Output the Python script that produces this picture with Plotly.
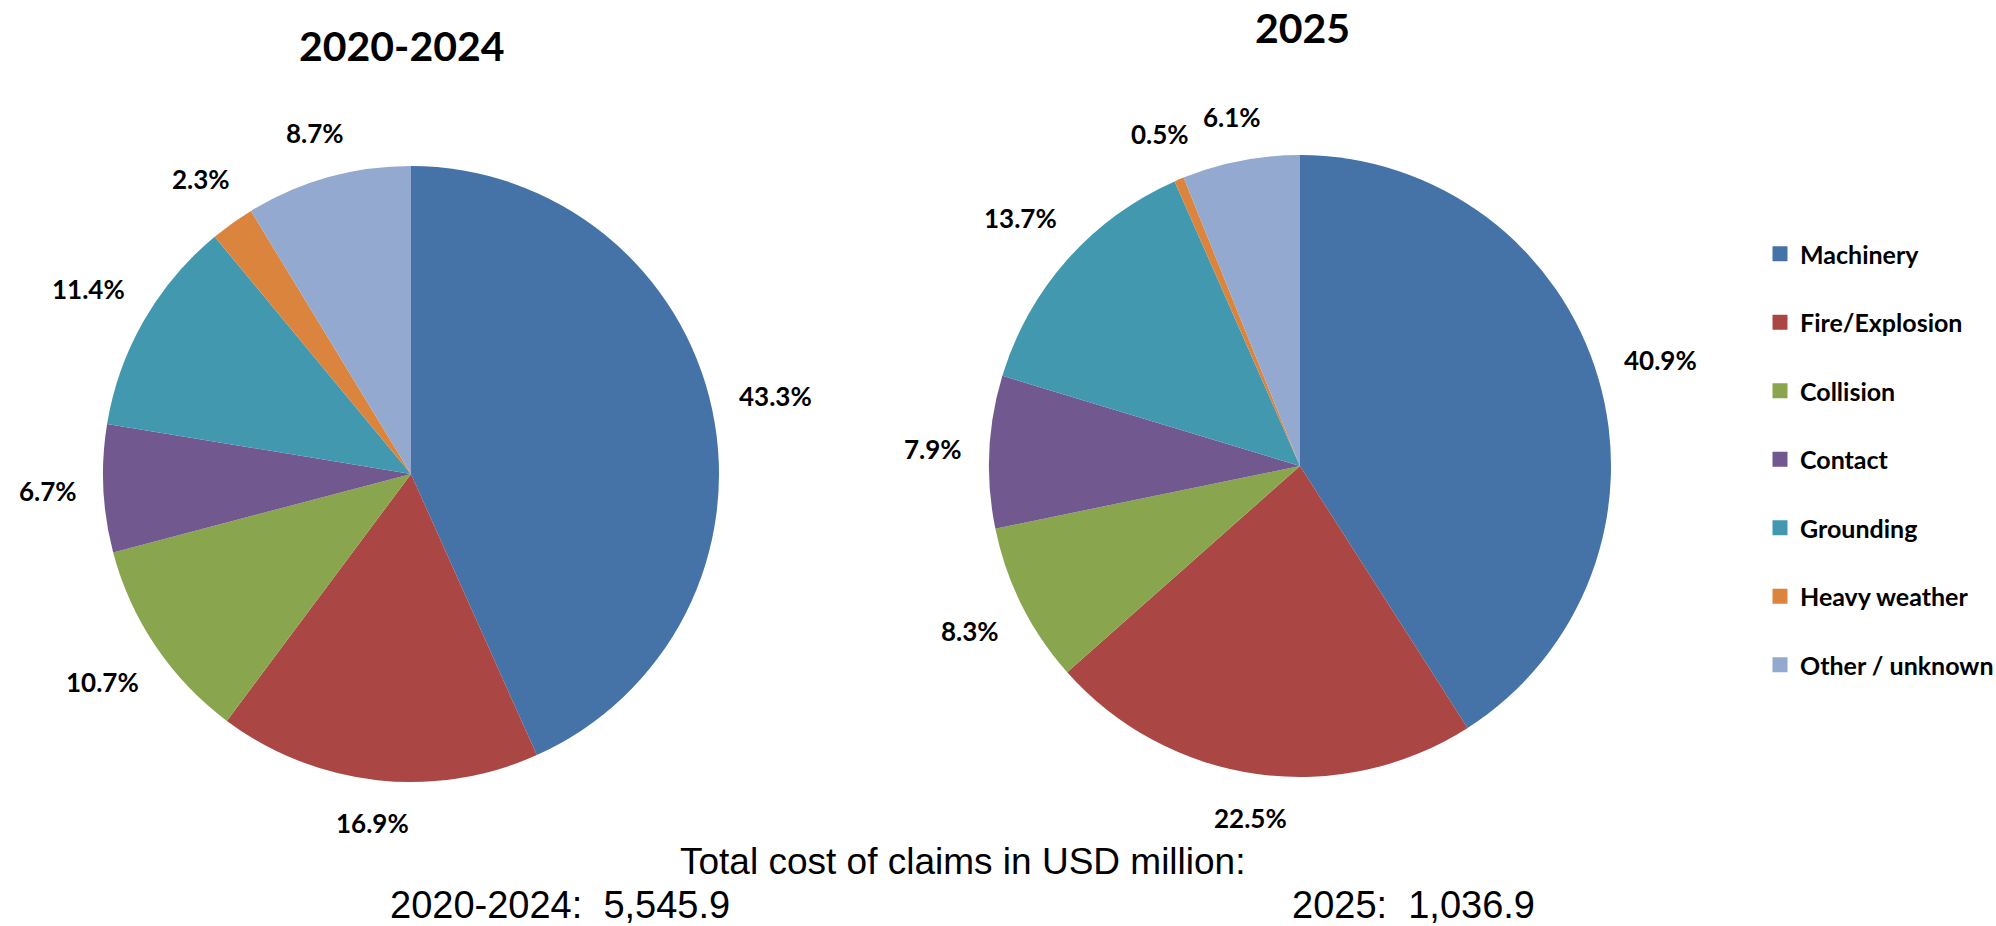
import math
import plotly.graph_objects as go

# ---------------- data ----------------
categories = ["Machinery", "Fire/Explosion", "Collision", "Contact",
              "Grounding", "Heavy weather", "Other / unknown"]
share_2020_2024 = [43.3, 16.9, 10.7, 6.7, 11.4, 2.3, 8.7]
share_2025 = [40.9, 22.5, 8.3, 7.9, 13.7, 0.5, 6.1]
period_titles = ["2020-2024", "2025"]
total_cost_2020_2024 = "5,545.9"
total_cost_2025 = "1,036.9"
footer_title = "Total cost of claims in USD million:"

colors = ["#4572A7", "#AA4643", "#89A54E", "#71588F",
          "#4198AF", "#DB843D", "#93A9CF"]

# ---------------- layout constants (pixels) ----------------
W, H = 1996, 926
BOLD_FONT = "Lato"
ARIAL = "Liberation Sans"

pies = [
    dict(values=share_2020_2024, title=period_titles[0], cx=411, cy=474, r=308, tx=402, ty=45),
    dict(values=share_2025, title=period_titles[1], cx=1300, cy=466, r=311, tx=1302, ty=27),
]


def px(x):
    return x / W


def py(y):
    return 1 - y / H


fig = go.Figure()
annotations = []

for p in pies:
    cx, cy, r = p["cx"], p["cy"], p["r"]
    fig.add_trace(go.Pie(
        values=p["values"], labels=categories, sort=False,
        direction="clockwise", rotation=0,
        marker=dict(colors=colors, line=dict(width=0)),
        textinfo="none", showlegend=False,
        domain=dict(x=[px(cx - r), px(cx + r)], y=[py(cy + r), py(cy - r)]),
        hovertemplate="%{label}: %{value:.1f}%<extra></extra>",
    ))
    # title
    annotations.append(dict(
        text=p["title"], x=px(p["tx"]), y=py(p["ty"]), xref="paper", yref="paper",
        showarrow=False, xanchor="center", yanchor="middle",
        font=dict(family=BOLD_FONT, size=41, color="black", weight="bold")))
    # data labels, placed outside each slice along its mid-angle
    total = sum(p["values"])
    cum = 0.0
    for v in p["values"]:
        mid = (cum + v / 2) / total * 2 * math.pi
        cum += v
        sx, sy = math.sin(mid), -math.cos(mid)
        label = f"{v:.1f}%"
        hw = (len(label) - 2) * 7.5 + 3 + 11
        hh = 13
        d = r * 1.085 + abs(sx) * hw + abs(sy) * hh
        annotations.append(dict(
            text=label, x=px(cx + d * sx), y=py(cy + d * sy),
            xref="paper", yref="paper", showarrow=False,
            xanchor="center", yanchor="middle",
            font=dict(family=BOLD_FONT, size=26, color="black", weight="bold")))

# legend entries (one per category, each in its own group for spacing)
for cat, col in zip(categories, colors):
    fig.add_trace(go.Scatter(
        x=[None], y=[None], mode="markers", name=cat, legendgroup=cat,
        marker=dict(symbol="square", size=15, color=col), hoverinfo="skip"))

# footer
annotations.append(dict(
    text=footer_title, x=px(962), y=py(861), xref="paper", yref="paper",
    showarrow=False, xanchor="center", yanchor="middle",
    font=dict(family=ARIAL, size=37, color="black")))
annotations.append(dict(
    text=f"{period_titles[0]}:\u00a0\u00a0{total_cost_2020_2024}", x=px(560), y=py(905),
    xref="paper", yref="paper", showarrow=False, xanchor="center", yanchor="middle",
    font=dict(family=ARIAL, size=38, color="black")))
annotations.append(dict(
    text=f"{period_titles[1]}:\u00a0\u00a0{total_cost_2025}", x=px(1413), y=py(905),
    xref="paper", yref="paper", showarrow=False, xanchor="center", yanchor="middle",
    font=dict(family=ARIAL, size=38, color="black")))

fig.update_layout(
    width=W, height=H,
    margin=dict(l=0, r=0, t=0, b=0, autoexpand=False),
    paper_bgcolor="white", plot_bgcolor="white",
    xaxis=dict(visible=False), yaxis=dict(visible=False),
    annotations=annotations,
    legend=dict(
        x=px(1760), y=py(231), xanchor="left", yanchor="top",
        font=dict(family=BOLD_FONT, size=25, color="black", weight="bold"),
        tracegroupgap=33, bgcolor="rgba(0,0,0,0)",
    ),
)

fig.write_html("out.html", config={"displayModeBar": False},
               post_script="document.body.style.margin='0px';")
